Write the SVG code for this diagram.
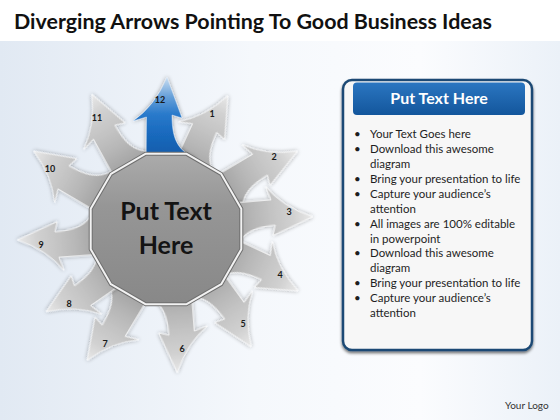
<svg xmlns="http://www.w3.org/2000/svg" xmlns:xlink="http://www.w3.org/1999/xlink" width="560" height="420" viewBox="0 0 560 420">
  <defs>
    <linearGradient id="bgGrad" x1="0" y1="0" x2="1" y2="0">
      <stop offset="0" stop-color="#e1e9f3"/>
      <stop offset="0.45" stop-color="#f5f8fc"/>
      <stop offset="0.75" stop-color="#fbfcfe"/>
      <stop offset="1" stop-color="#ebf1f8"/>
    </linearGradient>
    <linearGradient id="grayGrad" gradientUnits="userSpaceOnUse" x1="166" y1="168" x2="166" y2="78">
      <stop offset="0" stop-color="#999999"/>
      <stop offset="0.35" stop-color="#b6b6b6"/>
      <stop offset="0.55" stop-color="#c3c3c3"/>
      <stop offset="0.8" stop-color="#d1d1d1"/>
      <stop offset="1" stop-color="#e8e8e8"/>
    </linearGradient>
    <linearGradient id="blueGrad" gradientUnits="userSpaceOnUse" x1="166" y1="168" x2="166" y2="78">
      <stop offset="0" stop-color="#1354a0"/>
      <stop offset="0.4" stop-color="#1a6bbf"/>
      <stop offset="0.6" stop-color="#2a7acb"/>
      <stop offset="0.8" stop-color="#6aa2da"/>
      <stop offset="1" stop-color="#c6dcf1"/>
    </linearGradient>
    <linearGradient id="polyGrad" x1="0" y1="0" x2="0" y2="1">
      <stop offset="0" stop-color="#ababab"/>
      <stop offset="0.35" stop-color="#969696"/>
      <stop offset="1" stop-color="#888888"/>
    </linearGradient>
    <linearGradient id="headGrad" x1="0" y1="0" x2="0" y2="1">
      <stop offset="0" stop-color="#2b76c1"/>
      <stop offset="1" stop-color="#13569c"/>
    </linearGradient>
    <filter id="soft" x="-25%" y="-25%" width="150%" height="150%">
      <feGaussianBlur in="SourceAlpha" stdDeviation="2.2"/>
      <feComponentTransfer><feFuncA type="linear" slope="0.4"/></feComponentTransfer>
      <feMerge><feMergeNode/><feMergeNode in="SourceGraphic"/></feMerge>
    </filter>
    <filter id="panelShadow" x="-10%" y="-10%" width="120%" height="120%">
      <feGaussianBlur in="SourceAlpha" stdDeviation="1.5"/>
      <feOffset dx="0" dy="2"/>
      <feComponentTransfer><feFuncA type="linear" slope="0.55"/></feComponentTransfer>
      <feMerge><feMergeNode/><feMergeNode in="SourceGraphic"/></feMerge>
    </filter>
    <path id="arrowShape" d="M146 172 L146.5 117 L133 121 Q155 106 167 77 L182 118 L172 115 C172 136 176 150 195 158 L195 172 Z"/>
    <style>
      .gray { fill: url(#grayGrad); stroke: #ffffff; stroke-opacity: 0.8; stroke-width: 0.9; }
      .blue { fill: url(#blueGrad); stroke: #e8f1fa; stroke-opacity: 0.6; stroke-width: 0.8; }
      .num { font-family: Lato, "Liberation Sans", sans-serif; font-weight: bold; font-size: 9px; fill: #1a1a1a; text-anchor: middle; }
      .bul { font-family: Lato, "Liberation Sans", sans-serif; font-size: 11.5px; fill: #1e1e1e; }
    </style>
  </defs>

  <rect x="0" y="0" width="560" height="420" fill="url(#bgGrad)"/>
  <rect x="0" y="0" width="560" height="41" fill="#ffffff"/>

  <text x="14" y="29" font-family="Lato, 'Liberation Sans', sans-serif" font-weight="bold" font-size="20.5" fill="#111111" textLength="478" lengthAdjust="spacingAndGlyphs">Diverging Arrows Pointing To Good Business Ideas</text>

  <g id="connectors">
    <g id="arrow-1"><g transform="rotate(24.5 166 229) translate(0 5.1)" filter="url(#soft)"><use href="#arrowShape" class="gray"/></g><text class="num" x="212" y="117">1</text></g>
    <g id="arrow-2"><g transform="rotate(59 166 229) translate(0 -0.8)" filter="url(#soft)"><use href="#arrowShape" class="gray"/></g><text class="num" x="274" y="160">2</text></g>
    <g id="arrow-3"><g transform="rotate(84.8 166 229) translate(0 4.8)" filter="url(#soft)"><use href="#arrowShape" class="gray"/></g><text class="num" x="289" y="215">3</text></g>
    <g id="arrow-4"><g transform="rotate(114.7 166 229) translate(0 6.1)" filter="url(#soft)"><use href="#arrowShape" class="gray"/></g><text class="num" x="280" y="278">4</text></g>
    <g id="arrow-5"><g transform="rotate(143.7 166 229) translate(0 6.7)" filter="url(#soft)"><use href="#arrowShape" class="gray"/></g><text class="num" x="243" y="327">5</text></g>
    <g id="arrow-6"><g transform="rotate(175.1 166 229) translate(0 7.9)" filter="url(#soft)"><use href="#arrowShape" class="gray"/></g><text class="num" x="182" y="352">6</text></g>
    <g id="arrow-7"><g transform="rotate(210.6 166 229) translate(0 -1.2)" filter="url(#soft)"><use href="#arrowShape" class="gray"/></g><text class="num" x="105" y="347">7</text></g>
    <g id="arrow-8"><g transform="rotate(235 166 229) translate(0 6.4)" filter="url(#soft)"><use href="#arrowShape" class="gray"/></g><text class="num" x="69" y="307">8</text></g>
    <g id="arrow-9"><g transform="rotate(265.4 166 229) translate(0 3)" filter="url(#soft)"><use href="#arrowShape" class="gray"/></g><text class="num" x="41" y="248">9</text></g>
    <g id="arrow-10"><g transform="rotate(300.1 166 229) translate(0 -1.6)" filter="url(#soft)"><use href="#arrowShape" class="gray"/></g><text class="num" x="50" y="172">10</text></g>
    <g id="arrow-11"><g transform="rotate(330.8 166 229) translate(0 -1.7)" filter="url(#soft)"><use href="#arrowShape" class="gray"/></g><text class="num" x="97" y="121">11</text></g>
    <g id="arrow-12"><g filter="url(#soft)"><use href="#arrowShape" class="blue"/></g><text class="num" x="160" y="103">12</text></g>
  </g>

  <g id="center">
    <polygon points="145.8,153.7 186.2,153.7 221.2,173.9 241.3,208.8 241.3,249.2 221.2,284.2 186.2,304.3 145.8,304.3 110.9,284.2 90.7,249.2 90.7,208.8 110.9,173.9" fill="url(#polyGrad)" stroke="#6f6f6f" stroke-width="4" stroke-linejoin="round"/>
    <polygon points="145.8,153.7 186.2,153.7 221.2,173.9 241.3,208.8 241.3,249.2 221.2,284.2 186.2,304.3 145.8,304.3 110.9,284.2 90.7,249.2 90.7,208.8 110.9,173.9" fill="none" stroke="#f2f2f2" stroke-width="2" stroke-linejoin="round"/>
    <text x="166" y="220" font-family="Lato, 'Liberation Sans', sans-serif" font-weight="bold" font-size="25" fill="#141414" text-anchor="middle">Put Text</text>
    <text x="166" y="254" font-family="Lato, 'Liberation Sans', sans-serif" font-weight="bold" font-size="25" fill="#141414" text-anchor="middle">Here</text>
  </g>

  <g id="panel">
    <rect x="343" y="80" width="189" height="270" rx="9" fill="#f7f7f7" stroke="#1d4a74" stroke-width="2.5" filter="url(#panelShadow)"/>
    <rect x="353" y="82.5" width="172" height="32.5" rx="4" fill="url(#headGrad)"/>
    <text x="439" y="104" font-family="Lato, 'Liberation Sans', sans-serif" font-weight="bold" font-size="16" fill="#ffffff" text-anchor="middle">Put Text Here</text>
    <g class="bul">
      <text x="354" y="138">•</text><text x="370" y="138">Your Text Goes here</text>
      <text x="354" y="153">•</text><text x="370" y="153">Download this awesome</text>
      <text x="370" y="168">diagram</text>
      <text x="354" y="183">•</text><text x="370" y="183">Bring your presentation to life</text>
      <text x="354" y="198">•</text><text x="370" y="198">Capture your audience’s</text>
      <text x="370" y="212.5">attention</text>
      <text x="354" y="227.5">•</text><text x="370" y="227.5">All images are 100% editable</text>
      <text x="370" y="242.5">in powerpoint</text>
      <text x="354" y="257">•</text><text x="370" y="257">Download this awesome</text>
      <text x="370" y="272">diagram</text>
      <text x="354" y="287">•</text><text x="370" y="287">Bring your presentation to life</text>
      <text x="354" y="302">•</text><text x="370" y="302">Capture your audience’s</text>
      <text x="370" y="317">attention</text>
    </g>
  </g>

  <text x="505" y="409" font-family="Lato, 'Liberation Sans', sans-serif" font-size="10" fill="#333333">Your Logo</text>
</svg>
